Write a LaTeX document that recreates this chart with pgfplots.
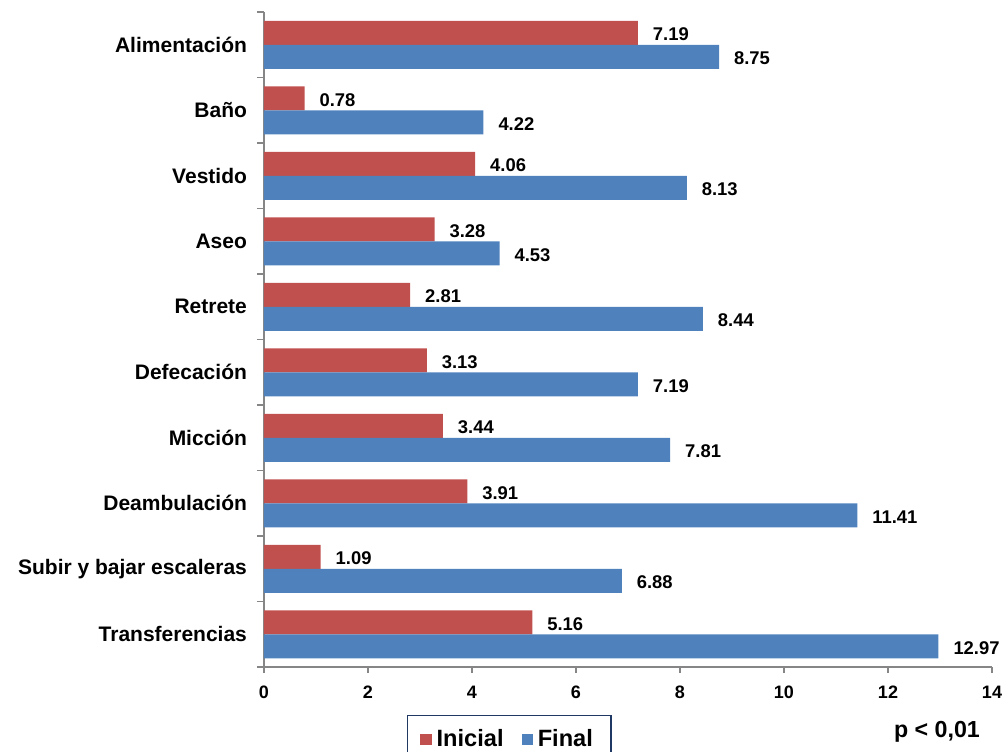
\documentclass[border=0pt]{standalone}
\usepackage{fontspec}
\setmainfont{Liberation Sans}
\usepackage{pgfplots}
\pgfplotsset{compat=1.18}
\definecolor{inicial}{RGB}{192,80,77}
\definecolor{final}{RGB}{79,129,189}
\definecolor{axisgray}{RGB}{134,134,134}
\definecolor{legborder}{RGB}{31,56,100}
\begin{document}
\begin{tikzpicture}[x=1pt,y=1pt]
\path[use as bounding box] (0,0) rectangle (501,375.5);
\begin{axis}[
  at={(132pt,42pt)}, anchor=south west,
  scale only axis, width=364pt, height=327.5pt,
  xbar, bar width=12pt,
  xmin=0, xmax=14, xtick={0,2,...,14},
  ymin=-0.5, ymax=9.5, y dir=reverse,
  ytick={0,...,9},
  yticklabels={Alimentación\ ,Baño,Vestido,Aseo,Retrete,Defecación,Micción,Deambulación,Subir y bajar escaleras,Transferencias},
  minor ytick={-0.5,0.5,...,9.5},
  axis x line*=bottom, axis y line*=left,
  axis line style={axisgray, line width=0.6pt},
  tick style={axisgray, line width=0.6pt},
  major y tick style={draw=none},
  tick align=outside,
  major tick length=3pt, minor tick length=3.5pt,
  /pgf/number format/assume math mode=true,
  xticklabel style={font=\bfseries\fontsize{9}{10}\selectfont, yshift=-3pt},
  yticklabel style={font=\bfseries\fontsize{10.5}{12}\selectfont, xshift=-2pt},
  nodes near coords,
  nodes near coords style={font=\bfseries\fontsize{9.2}{10}\selectfont, anchor=west, xshift=4pt, yshift=-0.8pt,
    /pgf/number format/.cd, fixed, precision=2, fixed zerofill, assume math mode=true},
  legend style={at={(0.196,-0.073)}, anchor=north west, legend columns=2,
    draw=legborder, line width=0.8pt, inner xsep=6.5pt, inner ysep=5pt,
    nodes={inner xsep=2.5pt},
    font=\bfseries\fontsize{11.8}{14}\selectfont,
    /tikz/every even column/.append style={column sep=6.5pt}},
  legend image code/.code={\fill[#1] (0pt,-2.8pt) rectangle (5.6pt,2.8pt);},
]
\addplot[fill=inicial, draw=none, bar shift=6pt] coordinates {
  (7.19,0) (0.78,1) (4.06,2) (3.28,3) (2.81,4)
  (3.13,5) (3.44,6) (3.91,7) (1.09,8) (5.16,9)
};
\addlegendentry{Inicial}
\addplot[fill=final, draw=none, bar shift=-6pt] coordinates {
  (8.75,0) (4.22,1) (8.13,2) (4.53,3) (8.44,4)
  (7.19,5) (7.81,6) (11.41,7) (6.88,8) (12.97,9)
};
\addlegendentry{Final}
\end{axis}
\node[font=\bfseries\fontsize{11.6}{14}\selectfont] at (468.5,9.5) {p < 0,01};
\end{tikzpicture}
\end{document}
